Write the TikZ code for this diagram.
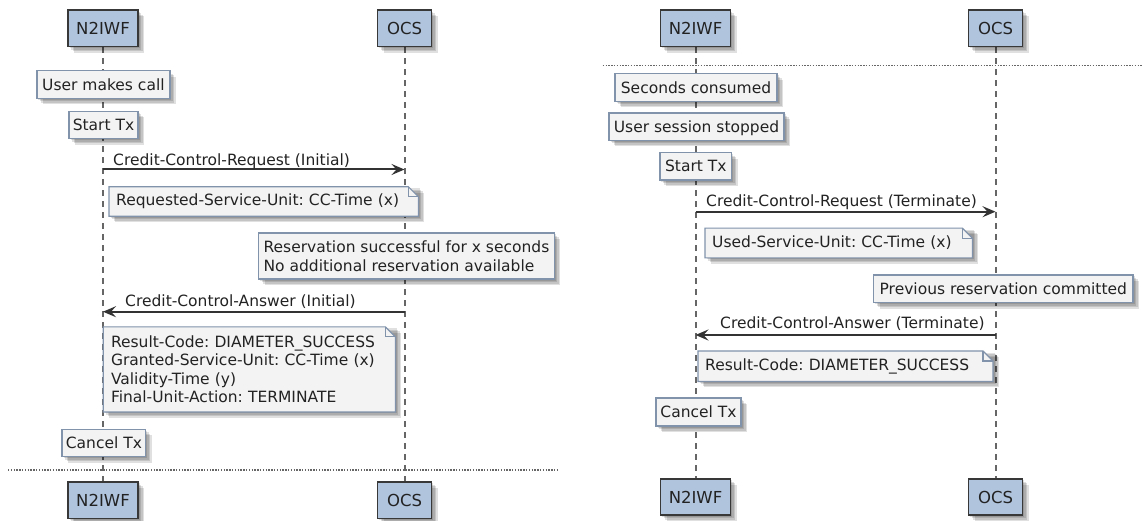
\documentclass[tikz,border=0pt]{standalone}
\usepackage{fontspec}
\setmainfont{DejaVu Sans}
\usetikzlibrary{arrows.meta}

\definecolor{partfill}{HTML}{B0C4DE}
\definecolor{partdraw}{HTML}{383838}
\definecolor{boxfill}{HTML}{F3F3F3}
\definecolor{boxdraw}{HTML}{8093AB}
\definecolor{txt}{HTML}{222222}
\definecolor{arrowc}{HTML}{333333}
\definecolor{lifec}{HTML}{666666}

\pgfdeclarelayer{lines}
\pgfdeclarelayer{notebg}
\pgfsetlayers{lines,notebg,main}

\newcommand\dgmtext{\fontsize{15.5}{18.5}\selectfont\frenchspacing}
\newcommand\dgmpart{\fontsize{16.5}{19}\selectfont}

% note body with a folded top-right corner and a soft shadow
\newcommand\drawnote[1]{%
  \foreach \s in {1.5,3,4.5,6}{%
    \fill[black,opacity=.12] ([shift={(\s pt,-\s pt)}]#1.south west) rectangle ([shift={(\s pt,-\s pt)}]#1.north east);}
  \filldraw[fill=boxfill,draw=boxdraw,line width=1.2pt]
    (#1.south west) -- (#1.north west) -- ([xshift=-10pt]#1.north east)
    -- ([yshift=-10pt]#1.north east) -- (#1.south east) -- cycle;
  \draw[boxdraw,line width=1.2pt] ([xshift=-10pt]#1.north east) |- ([yshift=-10pt]#1.north east);
}

\tikzset{
  softshadow/.style={
    preaction={fill=black,opacity=.12,transform canvas={shift={(6pt,-6pt)}}},
    preaction={fill=black,opacity=.12,transform canvas={shift={(4.5pt,-4.5pt)}}},
    preaction={fill=black,opacity=.12,transform canvas={shift={(3pt,-3pt)}}},
    preaction={fill=black,opacity=.12,transform canvas={shift={(1.5pt,-1.5pt)}}}},
  part/.style={draw=partdraw,line width=1.8pt,fill=partfill,minimum height=36.5pt,
    inner sep=0pt,font=\dgmpart,text=txt,softshadow},
  evbox/.style={draw=boxdraw,line width=1.2pt,fill=boxfill,minimum height=27.5pt,
    inner sep=0pt,font=\dgmtext,text=txt,text height=11.3pt,text depth=0pt,softshadow},
  evblock/.style={draw=boxdraw,line width=1.2pt,fill=boxfill,inner ysep=0pt,
    align=left,font=\dgmtext,text=txt,softshadow},
  notetext/.style={anchor=west,inner xsep=7pt,inner ysep=0pt,align=left,font=\dgmtext,text=txt},
  msg/.style={draw=arrowc,line width=2pt,-{Stealth[length=13pt,width=11pt,inset=5pt]}},
  msglabel/.style={anchor=base west,inner sep=0pt,font=\dgmtext,text=txt},
  lifeline/.style={draw=lifec,line width=2pt,dash pattern=on 6pt off 5pt},
  divider/.style={draw=lifec,line width=1.1pt,dash pattern=on 1.4pt off 1.4pt},
}

\begin{document}
\begin{tikzpicture}[x=1pt,y=-1pt]
\useasboundingbox (0,0) rectangle (1142,521);

% ---------- first exchange: initial request ----------
\node[part,minimum width=70pt] (nA)  at (103,28.3)   {N2IWF};
\node[part,minimum width=54pt] (oA)  at (404.5,28.3) {OCS};
\node[part,minimum width=70pt] (nA2) at (103,500.2)  {N2IWF};
\node[part,minimum width=54pt] (oA2) at (404.5,500.2){OCS};

\node[evbox,minimum width=133pt] (call)   at (103.4,84.5) {User makes call};
\node[evbox,minimum width=69pt]  (startA) at (103.5,125)  {Start Tx};

\coordinate (reqA1) at (103,169.5);
\coordinate (reqA2) at (404.5,169.5);
\draw[msg] (reqA1) -- (reqA2);
\node[msglabel] (reqAl) at (113,165.6) {Credit-Control-Request (Initial)};

\node[notetext,text width=295pt,minimum height=29pt] (rsu) at (109,201.5)
  {\mbox{Requested-Service-Unit: CC-Time (x)}};

\node[evblock,anchor=west,inner xsep=5pt,minimum height=46pt] (resv) at (258,256)
  {Reservation successful for x seconds\\No additional reservation available};

\coordinate (ansA1) at (404.5,311.7);
\coordinate (ansA2) at (103,311.7);
\draw[msg] (ansA1) -- (ansA2);
\node[msglabel] (ansAl) at (125,306.3) {Credit-Control-Answer (Initial)};

\node[notetext,inner xsep=7.5pt,text width=276.7pt,minimum height=84.7pt] (gsu) at (103.3,369.4)
  {\mbox{Result-Code: DIAMETER\_SUCCESS}\\\mbox{Granted-Service-Unit: CC-Time (x)}\\Validity-Time (y)\\\mbox{Final-Unit-Action: TERMINATE}};

\node[evbox,minimum width=83.7pt] (cancelA) at (103.9,442.9) {Cancel Tx};

% ---------- second exchange: termination ----------
\node[part,minimum width=70pt] (nB)  at (695.5,28.3) {N2IWF};
\node[part,minimum width=54pt] (oB)  at (995.5,28.3) {OCS};
\node[part,minimum width=70pt] (nB2) at (695.5,497)  {N2IWF};
\node[part,minimum width=54pt] (oB2) at (995.5,497)  {OCS};

\node[evbox,minimum width=162pt]  (secs)   at (696,87.5)    {Seconds consumed};
\node[evbox,minimum width=175pt]  (stop)   at (696.5,126.7) {User session stopped};
\node[evbox,minimum width=71.7pt] (startB) at (695.8,166.3) {Start Tx};

\coordinate (reqB1) at (695.5,211.7);
\coordinate (reqB2) at (995.5,211.7);
\draw[msg] (reqB1) -- (reqB2);
\node[msglabel] (reqBl) at (706,206.7) {Credit-Control-Request (Terminate)};

\node[notetext,text width=253pt,minimum height=29.3pt] (usu) at (705,243)
  {\mbox{Used-Service-Unit: CC-Time (x)}};

\node[evbox,minimum width=259.5pt,minimum height=27.7pt] (prev) at (1003.3,288.8)
  {Previous reservation committed};

\coordinate (ansB1) at (995.5,335);
\coordinate (ansB2) at (695.5,335);
\draw[msg] (ansB1) -- (ansB2);
\node[msglabel] (ansBl) at (720,328.8) {Credit-Control-Answer (Terminate)};

\node[notetext,text width=280.6pt,minimum height=30pt] (rcB) at (698,366.2)
  {\mbox{Result-Code: DIAMETER\_SUCCESS}};

\node[evbox,minimum width=85pt,minimum height=28pt] (cancelB) at (698.5,412) {Cancel Tx};

% ---------- note bodies ----------
\begin{pgfonlayer}{notebg}
  \drawnote{rsu}
  \drawnote{gsu}
  \drawnote{usu}
  \drawnote{rcB}
\end{pgfonlayer}

% ---------- page, lifelines and dividers ----------
\begin{pgfonlayer}{lines}
  \fill[white] (0,0) rectangle (1142,521);
  \draw[lifeline] (nA.south) -- (nA2.north);
  \draw[lifeline] (oA.south) -- (oA2.north);
  \draw[lifeline] (nB.south) -- (nB2.north);
  \draw[lifeline] (oB.south) -- (oB2.north);
  \coordinate (divA1) at (8,470);
  \coordinate (divA2) at (557,470);
  \coordinate (divB1) at (602.7,65.7);
  \coordinate (divB2) at (1142,65.7);
  \draw[divider] (divA1) -- (divA2);
  \draw[divider] (divB1) -- (divB2);
\end{pgfonlayer}
\end{tikzpicture}
\end{document}
